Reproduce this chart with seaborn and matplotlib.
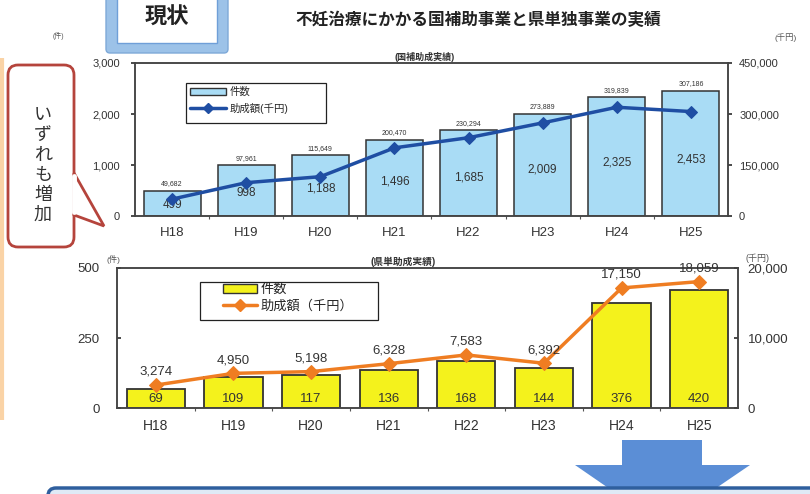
import numpy as np
import pandas as pd
import matplotlib
matplotlib.use("Agg")
import matplotlib.pyplot as plt
import seaborn as sns
from matplotlib.patches import FancyBboxPatch, Polygon, Rectangle, Patch
from matplotlib.lines import Line2D
from matplotlib.ticker import FuncFormatter

# === DATA ===
years = ["H18", "H19", "H20", "H21", "H22", "H23", "H24", "H25"]
nat_counts = [499, 998, 1188, 1496, 1685, 2009, 2325, 2453]
nat_amounts = [49682, 97961, 115649, 200470, 230294, 273889, 319839, 307186]
pref_counts = [69, 109, 117, 136, 168, 144, 376, 420]
pref_amounts = [3274, 4950, 5198, 6328, 7583, 6392, 17150, 18059]

title = "不妊治療にかかる国補助事業と県単独事業の実績"
callout = "いずれも増加"

# === COLORS ===
BLUE_BAR = "#a9dcf5"
BLUE_LINE = "#1f4ea3"
YELLOW_BAR = "#f4f21c"
ORANGE_LINE = "#ef7d22"
EDGE = "#333333"
TXT = "#333333"

sns.set_theme(style="white")
plt.rcParams["font.family"] = ["Liberation Sans", "Noto Sans CJK JP", "DejaVu Sans"]

W, H = 810, 494
fig = plt.figure(figsize=(W / 100, H / 100), dpi=100)
fig.patch.set_facecolor("white")


def box(l, t, r, b):
    return [l / W, 1 - b / H, (r - l) / W, (b - t) / H]


def fx(x):
    return x / W


def fy(y):
    return 1 - y / H


comma = FuncFormatter(lambda v, p: f"{int(v):,}")

# === DECORATION LAYER (pixel coords) ===
deco = fig.add_axes([0, 0, 1, 1])
deco.set_xlim(0, W)
deco.set_ylim(H, 0)
deco.axis("off")

# left orange edge
deco.plot([1.5, 1.5], [58, 420], color="#fad3a6", lw=3, solid_capstyle="butt")

# "現状" box
deco.add_patch(FancyBboxPatch((106, -8), 122, 61, boxstyle="round,pad=0,rounding_size=4",
                              fc="#9cc2e8", ec="#7ea9d8", lw=1))
deco.add_patch(Rectangle((117, -8), 100, 51, fc="white", ec="#6f9fd8", lw=1))
deco.text(167, 18, "現状", ha="center", va="center", fontsize=16, fontweight="bold", color="#222")

# title
deco.text(478, 20, title, ha="center", va="center", fontsize=12, fontweight="bold", color="#222")

# callout
red = "#b5443c"
deco.add_patch(FancyBboxPatch((8, 65), 66, 182, boxstyle="round,pad=0,rounding_size=10",
                              fc="white", ec=red, lw=2))
deco.add_patch(Polygon([(74, 173), (104, 226), (74, 215)], closed=True, fc="white", ec=red,
                       lw=2, joinstyle="miter"))
deco.plot([74, 74], [176, 212], color="white", lw=3.5)
for k, ch in enumerate(callout):
    deco.text(43, 115 + k * 20, ch, ha="center", va="center", fontsize=13,
              family=["Noto Sans CJK JP"], color=TXT)

# units and subtitles
deco.text(58, 36, "(件)", ha="center", va="center", fontsize=5, color="#555")
deco.text(786, 38, "(千円)", ha="center", va="center", fontsize=6, color="#555")
deco.text(425, 57, "(国補助成実績)", ha="center", va="center", fontsize=6.5, fontweight="bold", color=TXT)
deco.text(113, 259, "(件)", ha="center", va="center", fontsize=6, color="#555")
deco.text(758, 258, "(千円)", ha="center", va="center", fontsize=6.5, color="#555")
deco.text(403, 262, "(県単助成実績)", ha="center", va="center", fontsize=7, fontweight="bold", color=TXT)

# bottom arrow and box
deco.add_patch(Polygon([(622, 440), (702, 440), (702, 465), (750, 465), (662, 525),
                        (575, 465), (622, 465)], closed=True, fc="#5b8ed6", ec="none"))
deco.add_patch(FancyBboxPatch((48, 488), 790, 40, boxstyle="round,pad=0,rounding_size=8",
                              fc="#dfeaf6", ec="#2f5f9e", lw=2.5))

# === TOP CHART (national subsidy) ===
df_nat = pd.DataFrame({"year": years, "count": nat_counts, "amount": nat_amounts,
                       "pos": range(len(years))})

ax1 = fig.add_axes(box(135, 63, 728, 216))
sns.barplot(data=df_nat, x="year", y="count", color=BLUE_BAR, saturation=1,
            edgecolor=EDGE, linewidth=1.1, width=0.77, ax=ax1)
ax1.set_ylim(0, 3000)
ax1.set_yticks([0, 1000, 2000, 3000])
ax1.yaxis.set_major_formatter(comma)

ax1b = ax1.twinx()
sns.lineplot(data=df_nat, x="pos", y="amount", color=BLUE_LINE, lw=2.5, marker="D",
             markersize=6, markeredgecolor=BLUE_LINE, ax=ax1b)
ax1b.set_ylim(0, 450000)
ax1b.set_yticks([0, 150000, 300000, 450000])
ax1b.yaxis.set_major_formatter(comma)

for i, (c, a) in enumerate(zip(nat_counts, nat_amounts)):
    ax1.annotate(f"{a:,}", (i, c), xytext=(0, 5), textcoords="offset points",
                 ha="center", va="center", fontsize=5, color=TXT)
    ax1.text(i, c * 0.45, f"{c:,}", ha="center", va="center", fontsize=8.5, color=TXT, zorder=5)

# === BOTTOM CHART (prefectural subsidy) ===
df_pref = pd.DataFrame({"year": years, "count": pref_counts, "amount": pref_amounts,
                        "pos": range(len(years))})

ax2 = fig.add_axes(box(117, 268, 738, 408))
sns.barplot(data=df_pref, x="year", y="count", color=YELLOW_BAR, saturation=1,
            edgecolor=EDGE, linewidth=1.3, width=0.75, ax=ax2)
ax2.set_ylim(0, 500)
ax2.set_yticks([0, 250, 500])

ax2b = ax2.twinx()
sns.lineplot(data=df_pref, x="pos", y="amount", color=ORANGE_LINE, lw=2.5, marker="D",
             markersize=7, markeredgecolor=ORANGE_LINE, ax=ax2b)
ax2b.set_ylim(0, 20000)
ax2b.set_yticks([0, 10000, 20000])
ax2b.yaxis.set_major_formatter(comma)

for i, (c, a) in enumerate(zip(pref_counts, pref_amounts)):
    ax2.annotate(f"{c}", (i, 0), xytext=(0, 6.5), textcoords="offset points",
                 ha="center", va="center", fontsize=9.5, color=TXT)
    ax2b.annotate(f"{a:,}", (i, a), xytext=(0, 9.5), textcoords="offset points",
                  ha="center", va="center", fontsize=9.5, color=TXT)

# === AXIS STYLING ===
for a, a2, xfs, lpad, rpad, ylfs, tdir in [(ax1, ax1b, 9.5, 8, 5, 8, "out"),
                                             (ax2, ax2b, 10, 12.5, 7, 9.5, "in")]:
    a.set_xlim(-0.5, len(years) - 0.5)
    a.set_xlabel("")
    a.set_ylabel("")
    a2.set_xlabel("")
    a2.set_ylabel("")
    a.set_facecolor("white")
    for ax_ in (a, a2):
        for s in ax_.spines.values():
            s.set_color("#444444")
            s.set_linewidth(1.1)
    a.set_xticks(range(len(years)))
    a.set_xticklabels(years)
    a.set_xticks(np.arange(0.5, len(years) - 0.5, 1), minor=True)
    a.tick_params(axis="x", which="major", length=0, pad=8, labelsize=xfs, colors=TXT)
    a.tick_params(axis="x", which="minor", bottom=True, length=2, width=0.8, color="#555")
    a.tick_params(axis="y", left=True, length=3, direction=tdir, pad=lpad,
                  labelsize=ylfs, colors=TXT)
    a2.tick_params(axis="y", right=True, length=3, direction=tdir, pad=rpad,
                   labelsize=ylfs, colors=TXT)

# === LEGENDS ===
h1 = [Patch(fc=BLUE_BAR, ec=EDGE, lw=1),
      Line2D([], [], color=BLUE_LINE, lw=2.5, marker="D", ms=5)]
leg1 = ax1b.legend(h1, ["件数", "助成額(千円)"], loc="upper left", frameon=False,
                   bbox_to_anchor=(fx(190), fy(87)), bbox_transform=fig.transFigure,
                   borderpad=0, borderaxespad=0, fontsize=7.5, handlelength=3.45,
                   handletextpad=0.4, labelspacing=0.55)
fig.patches.append(Rectangle((fx(186), fy(123)), fx(140), 40 / H, transform=fig.transFigure,
                             fc="none", ec="#222", lw=0.9, zorder=10))

h2 = [Patch(fc=YELLOW_BAR, ec=EDGE, lw=1),
      Line2D([], [], color=ORANGE_LINE, lw=2.5, marker="D", ms=6)]
leg2 = ax2b.legend(h2, ["件数", "助成額（千円）"], loc="upper left", frameon=False,
                   bbox_to_anchor=(fx(223), fy(284)), bbox_transform=fig.transFigure,
                   borderpad=0, borderaxespad=0, fontsize=9.5, handlelength=2.6,
                   handletextpad=0.25, labelspacing=0.3)
fig.patches.append(Rectangle((fx(200), fy(320)), fx(178), 38 / H, transform=fig.transFigure,
                             fc="none", ec="#222", lw=0.9, zorder=10))

plt.savefig("out.png", dpi=100)
print("saved out.png")
